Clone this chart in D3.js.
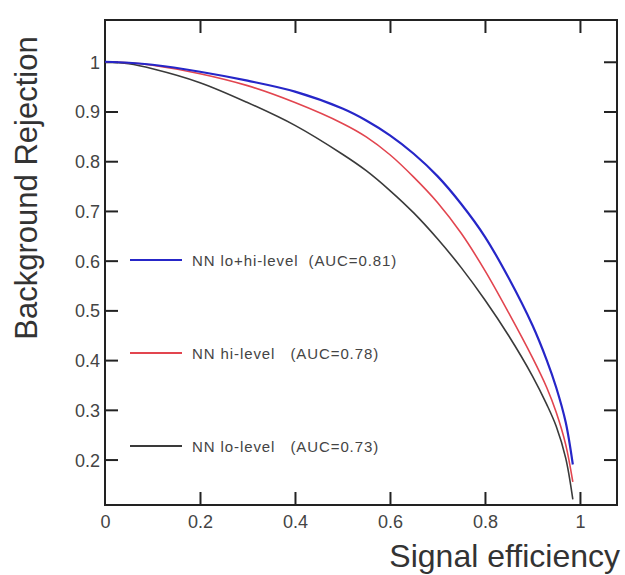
<!DOCTYPE html>
<html>
<head>
<meta charset="utf-8">
<script src="https://cdn.jsdelivr.net/npm/d3@7"></script>
<style>
  html, body { margin: 0; padding: 0; background: #fff; }
  svg { display: block; }
  text { font-family: "Liberation Sans", Arial, Helvetica, sans-serif; }
</style>
</head>
<body>
<svg id="chart" width="625" height="575"></svg>
<script>
// ---- Data ----
const sigEff  = [0, 0.05, 0.1, 0.2, 0.3, 0.4, 0.5, 0.55, 0.6, 0.65, 0.7, 0.75, 0.8, 0.85, 0.9, 0.93, 0.95, 0.97, 0.985];
const rejLoHi = [1.0, 0.998, 0.994, 0.980, 0.962, 0.940, 0.906, 0.882, 0.852, 0.815, 0.770, 0.714, 0.648, 0.565, 0.470, 0.400, 0.345, 0.275, 0.19];
const rejHi   = [1.0, 0.998, 0.993, 0.976, 0.952, 0.918, 0.876, 0.849, 0.813, 0.768, 0.717, 0.655, 0.580, 0.495, 0.405, 0.345, 0.295, 0.230, 0.155];
const rejLo   = [1.0, 0.996, 0.986, 0.958, 0.918, 0.872, 0.814, 0.781, 0.741, 0.696, 0.644, 0.586, 0.521, 0.449, 0.368, 0.311, 0.267, 0.203, 0.12];
const seriesNames = ["NN lo+hi-level  (AUC=0.81)", "NN hi-level   (AUC=0.78)", "NN lo-level   (AUC=0.73)"];
const seriesColors = ["#2626c8", "#e2454f", "#3a3a3a"];
const xTicks = [0, 0.2, 0.4, 0.6, 0.8, 1];
const yTicks = [0.2, 0.3, 0.4, 0.5, 0.6, 0.7, 0.8, 0.9, 1];
const xTitle = "Signal efficiency";
const yTitle = "Background Rejection";

// ---- Layout ----
const svg = d3.select("#chart");
const m = {left: 105, top: 20, right: 8, bottom: 70};
const W = 625 - m.left - m.right;   // 512
const H = 575 - m.top - m.bottom;   // 485

const x = d3.scaleLinear().domain([0, 1.078]).range([0, W]);
const y = d3.scaleLinear().domain([0.1086, 1.084]).range([H, 0]);

const g = svg.append("g").attr("transform", `translate(${m.left},${m.top})`);

const tickLen = 13;
const fmt = d => d === 0 ? "0" : d === 1 ? "1" : d3.format(".1f")(d);

const xAxis = g.append("g").attr("transform", `translate(0,${H})`)
  .call(d3.axisBottom(x).tickValues(xTicks).tickSizeInner(-tickLen).tickSizeOuter(0).tickPadding(10).tickFormat(fmt));
const yAxis = g.append("g")
  .call(d3.axisLeft(y).tickValues(yTicks).tickSizeInner(-tickLen).tickSizeOuter(0).tickPadding(5).tickFormat(fmt));
const xTop = g.append("g")
  .call(d3.axisTop(x).tickValues(xTicks.filter(d => d > 0)).tickSizeInner(-tickLen).tickSizeOuter(0).tickFormat(""));
const yRight = g.append("g").attr("transform", `translate(${W},0)`)
  .call(d3.axisRight(y).tickValues(yTicks).tickSizeInner(-tickLen).tickSizeOuter(0).tickFormat(""));

[xAxis, yAxis, xTop, yRight].forEach(a => {
  a.select(".domain").remove();
  a.selectAll(".tick line").attr("stroke", "#222").attr("stroke-width", 2);
  a.selectAll(".tick text").attr("fill", "#444").style("font-size", "18px");
});
yAxis.selectAll(".tick text").attr("dy", "0.36em");
xAxis.selectAll(".tick").filter(d => d === 0).select("line").remove();

g.append("rect").attr("x", 0).attr("y", 0).attr("width", W).attr("height", H)
  .attr("fill", "none").attr("stroke", "#222").attr("stroke-width", 2);

const series = [rejLoHi, rejHi, rejLo];
const line = d3.line().x((d, i) => x(sigEff[i])).y(d => y(d)).curve(d3.curveCatmullRom.alpha(0.5));
const widths = [2.2, 1.6, 1.6];
[2, 1, 0].forEach(k => {
  g.append("path").datum(series[k]).attr("d", line)
    .attr("fill", "none").attr("stroke", seriesColors[k]).attr("stroke-width", widths[k]);
});

const legendPx = [260, 353, 446];
seriesNames.forEach((name, k) => {
  const ly = legendPx[k] - m.top;
  g.append("line").attr("x1", 25).attr("x2", 77).attr("y1", ly).attr("y2", ly)
    .attr("stroke", seriesColors[k]).attr("stroke-width", 2);
  g.append("text").attr("x", 87).attr("y", ly + 5.5)
    .attr("fill", "#444").style("font-size", "15px").style("letter-spacing", "0.9px")
    .attr("xml:space", "preserve").style("white-space", "pre")
    .text(name);
});

svg.append("text").attr("x", 620).attr("y", 567).attr("text-anchor", "end")
  .attr("fill", "#333").style("font-size", "32px").text(xTitle);
svg.append("text").attr("transform", "translate(37,188) rotate(-90)").attr("text-anchor", "middle")
  .attr("fill", "#333").style("font-size", "31px").text(yTitle);
</script>
</body>
</html>
